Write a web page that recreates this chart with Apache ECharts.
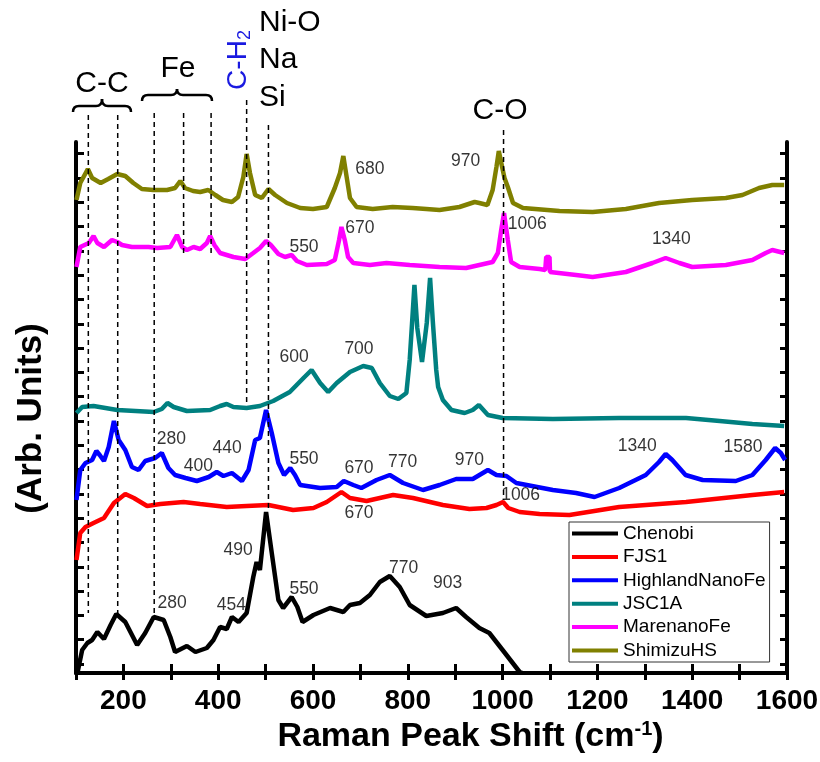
<!DOCTYPE html>
<html><head><meta charset="utf-8">
<script src="https://cdn.jsdelivr.net/npm/echarts@6/dist/echarts.min.js"></script>
<style>html,body{margin:0;padding:0;background:#fff}#c{width:820px;height:762px}</style>
</head><body><div id="c"></div>
<script>
// ---- data (x: Raman shift cm^-1, y: arbitrary offset intensity) ----
const seriesNames = ['Chenobi','FJS1','HighlandNanoFe','JSC1A','MarenanoFe','ShimizuHS'];
const seriesColors = ['#000000','#ff0000','#0000ff','#008080','#ff00ff','#808000'];
const xTickLabels = [200,400,600,800,1000,1200,1400,1600];

const chenobi = [[103,0],[113,23],[124,30],[134,33],[145,41],[159,34],[173,48],[185,59],[204,51],[229,28],[246,40],[264,56],[285,53],[299,36],[309,21],[334,27],[352,21],[376,25],[390,33],[404,46],[418,44],[429,56],[443,51],[460,60],[474,96],[481,111],[488,103],[501,161],[513,120],[527,73],[537,65],[555,76],[567,66],[578,51],[601,58],[636,65],[664,61],[678,68],[699,70],[720,78],[741,91],[762,97],[783,86],[804,68],[839,57],[874,60],[902,65],[923,56],[951,45],[972,40],[1000,23],[1036,1],[1042,0]];

const fjs1 = [[101,113],[109,140],[120,146],[137,150],[159,155],[180,170],[204,179],[222,175],[250,167],[278,169],[327,171],[362,169],[418,166],[460,167],[506,168],[558,163],[601,165],[629,171],[660,181],[678,175],[713,172],[769,178],[811,175],[874,168],[930,164],[966,165],[987,168],[1001,171],[1012,165],[1036,161],[1078,159],[1141,158],[1246,166],[1387,171],[1527,178],[1594,181]];

const highland = [[101,173],[109,203],[120,210],[134,213],[143,222],[150,218],[159,212],[169,226],[180,252],[190,233],[204,223],[218,206],[232,203],[246,212],[267,215],[281,220],[295,205],[309,198],[331,195],[355,192],[380,196],[397,201],[411,197],[429,200],[450,192],[464,203],[478,233],[488,235],[501,263],[513,240],[527,210],[539,198],[552,205],[562,198],[573,188],[615,185],[650,186],[665,192],[685,188],[702,185],[734,193],[762,198],[790,190],[832,183],[867,188],[902,194],[937,194],[969,203],[987,198],[1008,197],[1029,190],[1106,183],[1155,180],[1194,176],[1246,185],[1302,198],[1330,211],[1344,219],[1358,213],[1386,198],[1422,193],[1492,192],[1527,198],[1555,213],[1575,225],[1587,220],[1596,213]];

const jsc1a = [[101,260],[113,266],[137,267],[187,263],[264,261],[281,264],[293,270],[306,266],[334,262],[383,263],[404,267],[418,269],[432,266],[460,265],[488,267],[516,272],[551,281],[580,295],[597,303],[615,290],[632,281],[650,290],[678,301],[706,307],[724,305],[741,290],[762,277],[780,274],[797,280],[804,313],[809,350],[814,388],[820,345],[830,311],[840,350],[847,395],[853,350],[860,303],[864,286],[874,273],[892,263],[920,260],[937,263],[950,268],[969,258],[1000,255],[1106,254],[1246,255],[1387,255],[1458,252],[1527,249],[1594,247]];

const marenano = [[101,406],[109,426],[127,430],[137,437],[145,430],[159,426],[176,433],[187,431],[197,428],[218,426],[236,426],[253,426],[271,425],[299,426],[313,438],[324,426],[334,423],[348,426],[362,424],[376,430],[383,437],[392,428],[404,420],[432,416],[457,414],[474,420],[488,425],[501,432],[511,428],[527,419],[541,416],[555,418],[566,412],[587,408],[629,409],[646,413],[655,433],[660,446],[667,433],[674,416],[685,410],[720,408],[755,410],[804,408],[867,406],[923,405],[979,411],[990,420],[997,443],[1003,460],[1011,433],[1018,411],[1036,406],[1078,404],[1090,403],[1092,416],[1099,416],[1100,401],[1155,398],[1190,396],[1260,401],[1316,410],[1344,415],[1373,410],[1400,406],[1471,408],[1527,413],[1555,420],[1569,423],[1594,420]];

const shimizu = [[101,473],[109,490],[125,504],[134,495],[152,490],[168,494],[187,499],[204,497],[221,490],[239,484],[263,483],[292,483],[309,485],[320,492],[330,485],[347,482],[362,481],[379,483],[394,478],[410,473],[429,471],[442,476],[453,496],[460,519],[467,500],[478,478],[492,475],[506,484],[520,478],[545,470],[573,465],[600,464],[629,466],[646,485],[657,500],[664,517],[671,496],[678,475],[692,466],[726,464],[768,466],[810,465],[839,464],[867,463],[909,466],[941,471],[951,470],[968,468],[979,483],[987,506],[992,522],[999,506],[1004,495],[1011,486],[1022,470],[1043,465],[1120,462],[1190,461],[1260,464],[1330,470],[1400,473],[1471,475],[1506,478],[1541,485],[1569,488],[1594,488]];

// peak labels: [x, y, text]
const peakLabels = [
  [720,504,'680'],[922,512,'970'],
  [1052,449,'1006'],[1356,434,'1340'],[699,445,'670'],[581,426,'550'],
  [560,316,'600'],[697,324,'700'],
  [301,234,'280'],[358,207,'400'],[419,225,'440'],[581,214,'550'],[697,205,'670'],[789,211,'770'],[930,213,'970'],[1284,227,'1340'],[1507,226,'1580'],
  [697,160,'670'],[1038,178,'1006'],
  [442,123,'490'],[303,70,'280'],[428,68,'454'],[581,84,'550'],[791,105,'770'],[884,90,'903']
];

// assignment reference lines: [x, lower end y]
const refLines = [[126,60],[188,60],[265,58],[327,417],[385,417],[460,270],[506,163],[1002,173]];
const refLineTops = [115,115,113,113,113,100,125,130];

const yMax = 531;
const FONT = 'Liberation Sans, Arial, sans-serif';

const chart = echarts.init(document.getElementById('c'), null, {renderer:'canvas'});
const dataSets = [chenobi, fjs1, highland, jsc1a, marenano, shimizu];
const tickVals = [];
for (let v = 9; v < yMax; v += 24.3) tickVals.push(+v.toFixed(1));

const series = dataSets.map((d,i)=>({
  name: seriesNames[i], type:'line', data:d, showSymbol:false, symbol:'none',
  lineStyle:{color:seriesColors[i], width:4.5}, itemStyle:{color:seriesColors[i]},
  clip:true, animation:false, z:2
}));
series.push({
  name:'labels', type:'scatter', data:peakLabels, symbolSize:0.1,
  itemStyle:{color:'rgba(0,0,0,0)'}, animation:false, z:5,
  label:{show:true, position:'inside', formatter:p=>p.data[2], color:'#000', fontSize:17.5, fontFamily:FONT, textBorderWidth:0}
});

const axisCommon = {
  axisLine:{show:true, lineStyle:{color:'#000', width:4}},
  splitLine:{show:false}
};

chart.setOption({
  animation:false,
  grid:{left:76, right:33, top:142, bottom:89, containLabel:false, outerBoundsMode:'none'},
  legend:{
    data:seriesNames, orient:'vertical', left:569, top:522,
    icon:'rect', itemWidth:46, itemHeight:4, itemGap:4.4,
    backgroundColor:'#fff', borderColor:'#333', borderWidth:1, padding:[2,4,2,3],
    textStyle:{fontSize:19, fontFamily:FONT, color:'#000', lineHeight:19}
  },
  xAxis:[{
    type:'value', min:100, max:1600, interval:100, position:'bottom',
    ...axisCommon,
    axisTick:{show:true, inside:true, length:9, lineStyle:{color:'#000', width:3}},
    axisLabel:{show:true, margin:14, fontSize:28, fontWeight:'bold', fontFamily:FONT, color:'#000',
      formatter:v=> xTickLabels.includes(v) ? String(v) : ''},
    name:'{a|Raman Peak Shift (cm}{s|-1}{a|)}', nameLocation:'middle', nameGap:46,
    nameTextStyle:{padding:[0,0,0,78], rich:{
      a:{fontSize:34, fontWeight:'bold', fontFamily:FONT, color:'#000'},
      s:{fontSize:20, fontWeight:'bold', fontFamily:FONT, color:'#000', verticalAlign:'top', padding:[0,0,14,0]}
    }}
  },{
    type:'value', min:100, max:1600, interval:100, position:'top',
    ...axisCommon,
    axisTick:{show:true, inside:true, length:7, lineStyle:{color:'#000', width:3}},
    axisLabel:{show:false}
  }],
  yAxis:[{
    type:'value', min:0, max:yMax, position:'left',
    ...axisCommon,
    axisTick:{show:true, inside:true, length:8, customValues:tickVals, lineStyle:{color:'#000', width:3}},
    axisLabel:{show:false},
    name:'(Arb. Units)', nameLocation:'middle', nameGap:27, nameRotate:90,
    nameTextStyle:{fontSize:35, fontWeight:'bold', fontFamily:FONT, color:'#000', padding:[0,22,0,0]}
  },{
    type:'value', min:0, max:yMax, position:'right',
    ...axisCommon,
    axisTick:{show:true, inside:true, length:7, customValues:tickVals, lineStyle:{color:'#000', width:3}},
    axisLabel:{show:false}
  }],
  series: series
});

// ---- annotations above the plot ----
const px = w => chart.convertToPixel({xAxisIndex:0}, w);
const py = v => chart.convertToPixel({yAxisIndex:0}, v);
const g = [];
refLines.forEach((r,i)=>{
  const x = px(r[0]);
  g.push({type:'line', z:10, shape:{x1:x, y1:refLineTops[i], x2:x, y2:py(r[1])},
    style:{stroke:'#000', lineWidth:1.5, lineDash:[5,4]}});
});
function brace(x1,x2,yTop,yBar,yEnd){
  const m=(x1+x2)/2, st={stroke:'#000', lineWidth:2.5, fill:null};
  const c=(a,b,cx,cy,d,e)=>({type:'bezierCurve', z:10, shape:{x1:a,y1:b,cpx1:cx,cpy1:cy,x2:d,y2:e}, style:st});
  const l=(a,b,d,e)=>({type:'line', z:10, shape:{x1:a,y1:b,x2:d,y2:e}, style:st});
  return [c(x1,yEnd,x1,yBar,x1+6,yBar), l(x1+6,yBar,m-6,yBar), c(m-6,yBar,m,yBar,m,yTop),
          c(m,yTop,m,yBar,m+6,yBar), l(m+6,yBar,x2-6,yBar), c(x2-6,yBar,x2,yBar,x2,yEnd)];
}
g.push(...brace(73,131,99,106,112));
g.push(...brace(142,212,89,95,101));
const txt = (t,x,y,align,color)=>({type:'text', z:10, x:x, y:y,
  style:{text:t, fontSize:30, fontFamily:FONT, fill:color||'#000', align:align||'center', verticalAlign:'middle'}});
g.push(txt('C-C',102,84));
g.push(txt('Fe',178,69));
g.push(txt('Ni-O',259,23,'left'));
g.push(txt('Na',259,60,'left'));
g.push(txt('Si',259,98,'left'));
g.push(txt('C-O',500,111));
g.push({type:'text', z:10, x:238, y:60, rotation:Math.PI/2,
  style:{text:'{a|C-H}{b|2}', align:'center', verticalAlign:'middle',
    rich:{a:{fontSize:28, fontFamily:FONT, fill:'#1a1ae0'}, b:{fontSize:18, fontFamily:FONT, fill:'#1a1ae0', verticalAlign:'bottom', padding:[14,0,0,0]}}}});
chart.setOption({graphic:g});
</script>
</body></html>
